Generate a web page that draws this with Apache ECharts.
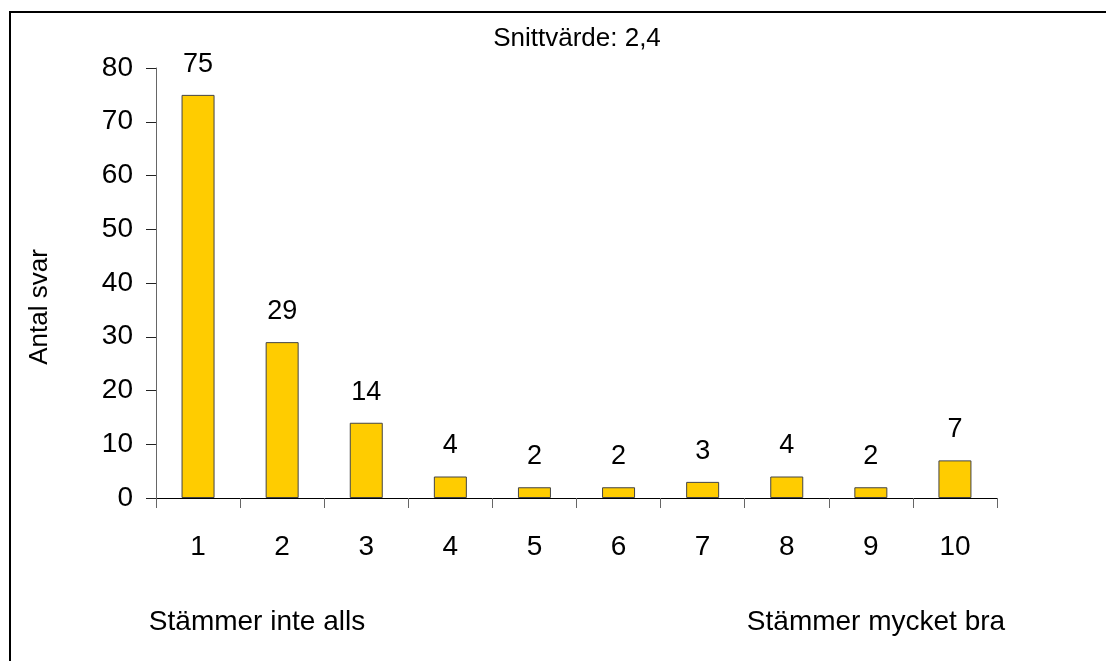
<!DOCTYPE html>
<html>
<head>
<meta charset="utf-8">
<script src="https://cdn.jsdelivr.net/npm/echarts@6/dist/echarts.min.js"></script>
<style>
html,body{margin:0;padding:0;background:#fff;}
#chart{width:1106px;height:661px;}
</style>
</head>
<body>
<div id="chart"></div>
<script>
var categories = ['1','2','3','4','5','6','7','8','9','10'];
var values = [75, 29, 14, 4, 2, 2, 3, 4, 2, 7];
var yTicks = {min: 0, max: 80, interval: 10};
var titleText = 'Snittvärde: 2,4';
var yAxisName = 'Antal svar';
var lowLabel = 'Stämmer inte alls';
var highLabel = 'Stämmer mycket bra';

var FONT = '"Liberation Sans", Arial, sans-serif';
var chart = echarts.init(document.getElementById('chart'), null, {renderer: 'canvas'});
chart.setOption({
  backgroundColor: '#ffffff',
  animation: false,
  grid: {left: 156, right: 109, top: 68, bottom: 163, containLabel: false},
  xAxis: {
    type: 'category',
    data: categories,
    boundaryGap: true,
    axisLine: {lineStyle: {color: '#000', width: 1}},
    axisTick: {show: true, length: 10, lineStyle: {color: '#666'}},
    axisLabel: {color: '#000', fontFamily: FONT, fontSize: 28, margin: 35}
  },
  yAxis: {
    type: 'value',
    min: yTicks.min, max: yTicks.max, interval: yTicks.interval,
    splitLine: {show: false},
    axisLine: {show: true, lineStyle: {color: '#666', width: 1}},
    axisTick: {show: true, length: 10, lineStyle: {color: '#222'}},
    axisLabel: {color: '#000', fontFamily: FONT, fontSize: 28, margin: 23}
  },
  series: [{
    type: 'bar',
    data: values,
    barWidth: 33,
    itemStyle: {color: '#FFCC00', borderColor: '#444', borderWidth: 1},
    label: {show: true, position: 'top', distance: 17, color: '#000', fontFamily: FONT, fontSize: 27}
  }],
  graphic: [
    {type: 'rect', shape: {x: 10, y: 12, width: 1200, height: 800}, style: {fill: 'none', stroke: '#000', lineWidth: 2}, silent: true},
    {type: 'text', x: 577, y: 39, style: {text: titleText, font: '26px ' + FONT, fill: '#000', textAlign: 'center', textVerticalAlign: 'middle'}},
    {type: 'text', x: 40, y: 307, rotation: Math.PI / 2, style: {text: yAxisName, font: '26px ' + FONT, fill: '#000', textAlign: 'center', textVerticalAlign: 'middle'}},
    {type: 'text', x: 257, y: 622, style: {text: lowLabel, font: '28px ' + FONT, fill: '#000', textAlign: 'center', textVerticalAlign: 'middle'}},
    {type: 'text', x: 876, y: 622, style: {text: highLabel, font: '28px ' + FONT, fill: '#000', textAlign: 'center', textVerticalAlign: 'middle'}}
  ]
});
</script>
</body>
</html>
